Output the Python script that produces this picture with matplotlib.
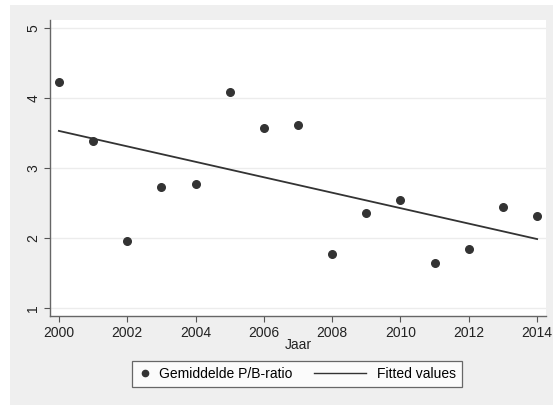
import matplotlib
matplotlib.use("Agg")
import matplotlib.pyplot as plt
from matplotlib.patches import Rectangle
from matplotlib.lines import Line2D

plt.rcParams['font.family'] = ['Liberation Sans', 'DejaVu Sans']

# Data
jaren = [2000, 2001, 2002, 2003, 2004, 2005, 2006, 2007,
         2008, 2009, 2010, 2011, 2012, 2013, 2014]
pb_ratio = [4.23, 3.39, 1.96, 2.73, 2.77, 4.09, 3.57, 3.62,
            1.77, 2.36, 2.55, 1.64, 1.85, 2.44, 2.32]
# fitted line, read at its two ends
fit_jaren = [2000, 2014]
fit_values = [3.53, 1.985]
x_ticks = [2000, 2002, 2004, 2006, 2008, 2010, 2012, 2014]
y_ticks = [1, 2, 3, 4, 5]

dark = '#333333'


class DotHandler:
    # small dot, centered in a short handle box
    def legend_artist(self, legend, orig_handle, fontsize, handlebox):
        w, h = handlebox.width, handlebox.height
        x0, y0 = -handlebox.xdescent, -handlebox.ydescent
        dot = Line2D([x0 + w / 2], [y0 + h / 2], marker='o', ms=4.5,
                     color=dark, ls='none')
        handlebox.add_artist(dot)
        return dot


class LongLineHandler:
    # long line that reaches left out of the short handle box
    def legend_artist(self, legend, orig_handle, fontsize, handlebox):
        w, h = handlebox.width, handlebox.height
        x0, y0 = -handlebox.xdescent, -handlebox.ydescent
        ln = Line2D([x0 + w - 40, x0 + w - 3], [y0 + h / 2, y0 + h / 2],
                    color=dark, lw=1.0)
        handlebox.add_artist(ln)
        return ln


fig = plt.figure(figsize=(5.53, 4.05), dpi=100)
fig.patch.set_facecolor('white')
# grey outer region like Stata's graph region
fig.patches.append(Rectangle((10 / 553, 0), 1 - 10 / 553, 1 - 5 / 405,
                             transform=fig.transFigure, facecolor='#efefef',
                             edgecolor='none', zorder=-10))

ax = fig.add_axes([50 / 553, 1 - 316 / 405, 496 / 553, 296 / 405])
ax.set_facecolor('white')

pts = ax.scatter(jaren, pb_ratio, s=30, color=dark, zorder=3)
fit_line, = ax.plot(fit_jaren, fit_values, color=dark, lw=1.3, zorder=2)

ax.set_xlim(1999.74, 2014.26)
ax.set_ylim(0.886, 5.114)
ax.set_xticks(x_ticks)
ax.set_yticks(y_ticks)
ax.set_yticklabels([str(v) for v in y_ticks], rotation=90, va='center')
ax.tick_params(axis='both', direction='out', length=4, width=0.8,
               color='#555555', labelsize=10, labelcolor='#222222', pad=3)
ax.yaxis.grid(True, color='#ececec', lw=1.0)
ax.set_axisbelow(True)

for side in ['top', 'right']:
    ax.spines[side].set_visible(False)
for side in ['left', 'bottom']:
    ax.spines[side].set_color('#666666')
    ax.spines[side].set_linewidth(1.0)

ax.set_xlabel('Jaar', fontsize=10, color='#222222', labelpad=-1)

leg = fig.legend([pts, fit_line], ['Gemiddelde P/B-ratio', 'Fitted values'],
                 handler_map={pts: DotHandler(), fit_line: LongLineHandler()},
                 loc='center', bbox_to_anchor=(297 / 553, 1 - 374 / 405),
                 ncol=2, frameon=True, fancybox=False, fontsize=10,
                 handlelength=1.0, columnspacing=4.6, borderpad=0.45,
                 handletextpad=0.5, borderaxespad=0)
leg.get_frame().set_edgecolor('#444444')
leg.get_frame().set_linewidth(0.9)

fig.savefig('out.png', dpi=100, facecolor=fig.get_facecolor())
